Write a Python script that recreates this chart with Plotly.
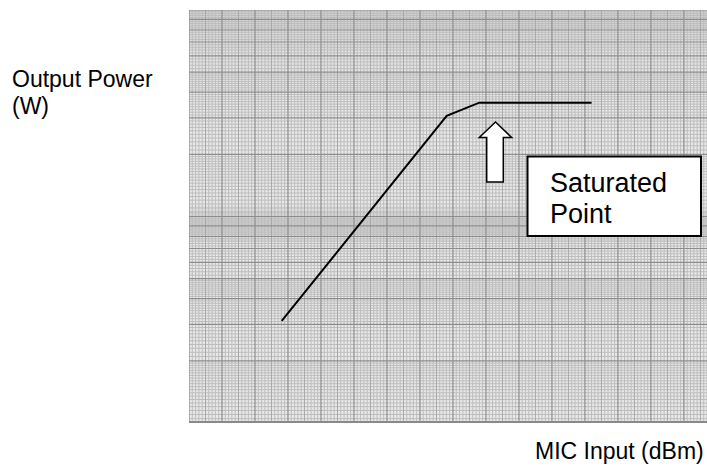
import plotly.graph_objects as go

# ---- data ----
mic_input_dbm = [2.81, 7.81, 8.80, 12.20]
output_power_w = [3.12, 30.7, 35.6, 35.6]

x_title = "MIC Input (dBm)"
y_title_lines = ["Output Power", "(W)"]
box_lines = ["Saturated", "Point"]

# ---- layout geometry (pixels) ----
W, H = 707, 466
L, T, R, B = 189, 10, 0, 466 - 423
PW, PH = W - L - R, H - T - B
XMAX = 15.7


def px(xp):
    return (xp - L) / PW


def py(yp):
    return (H - B - yp) / PH


fig = go.Figure()


def add_lines(xs=None, ys=None, color="#bbb", width=1):
    gx, gy = [], []
    if xs is not None:
        for v in xs:
            gx += [v, v, None]
            gy += [1, 100, None]
    if ys is not None:
        for v in ys:
            gx += [0, XMAX, None]
            gy += [v, v, None]
    fig.add_trace(go.Scatter(x=gx, y=gy, mode="lines", hoverinfo="skip",
                             line=dict(color=color, width=width), showlegend=False))


v_minor, v_mid, v_major = [], [], []
for i in range(0, 158):
    v = i / 10
    if i % 10 == 0:
        v_major.append(v)
    elif i % 5 == 0:
        v_mid.append(v)
    else:
        v_minor.append(v)

h_minor, h_major = [], []
for dec in (1, 10):
    vals = []
    k = 100
    while k < 200:
        vals.append(k / 100); k += 5
    k = 20
    while k < 50:
        vals.append(k / 10); k += 1
    k = 50
    while k < 100:
        vals.append(k / 10); k += 2
    for v in vals:
        val = round(v * dec, 4)
        if abs(v - round(v)) < 1e-9:
            h_major.append(val)
        else:
            h_minor.append(val)
h_major.append(100)

add_lines(xs=v_minor, color="#bdbdbd", width=1)
add_lines(ys=h_minor, color="#bdbdbd", width=1)
add_lines(xs=v_mid, color="#a8a8a8", width=1)
add_lines(xs=v_major, color="#8c8c8c", width=1.2)
add_lines(ys=h_major, color="#8c8c8c", width=1.2)
# bottom edge of the paper
fig.add_trace(go.Scatter(x=[0, XMAX], y=[1.006, 1.006], mode="lines", hoverinfo="skip",
                         line=dict(color="#8a8a8a", width=3), showlegend=False))

# data line
fig.add_trace(go.Scatter(x=mic_input_dbm, y=output_power_w, mode="lines",
                         line=dict(color="black", width=2), showlegend=False,
                         hoverinfo="skip"))

# hollow arrow (pixel coords of the reference -> paper coords)
arrow_px = [(495.5, 122), (511.7, 137.5), (503.3, 137.5), (503.3, 182),
            (486.7, 182), (486.7, 137.5), (479.3, 137.5)]
path = "M " + " L ".join(f"{px(a):.5f},{py(b):.5f}" for a, b in arrow_px) + " Z"

shapes = []
# scan shading of the paper: darker band near the decade line, darker top
for y0, y1, a in [(206, 242, 0.04), (211, 237, 0.05)]:
    shapes.append(dict(type="rect", xref="paper", yref="paper", layer="below",
                       x0=0, x1=1, y0=py(y1), y1=py(y0),
                       fillcolor=f"rgba(0,0,0,{a})", line=dict(width=0)))
for y1, a in [(30, 0.035), (50, 0.025), (75, 0.02)]:
    shapes.append(dict(type="rect", xref="paper", yref="paper", layer="below",
                       x0=0, x1=1, y0=py(y1), y1=1,
                       fillcolor=f"rgba(0,0,0,{a})", line=dict(width=0)))
shapes += [
    dict(type="path", xref="paper", yref="paper", path=path,
         fillcolor="white", line=dict(color="black", width=1.5)),
    dict(type="rect", xref="paper", yref="paper",
         x0=px(527.5), x1=px(701), y0=py(236), y1=py(156.5),
         fillcolor="white", line=dict(color="black", width=2)),
]

font = "Liberation Sans, Arial, sans-serif"
annotations = [
    dict(text=y_title_lines[0], xref="paper", yref="paper", x=px(10), y=py(79),
         xanchor="left", yanchor="middle", showarrow=False,
         font=dict(family=font, size=23, color="black")),
    dict(text=y_title_lines[1], xref="paper", yref="paper", x=px(10), y=py(106),
         xanchor="left", yanchor="middle", showarrow=False,
         font=dict(family=font, size=23, color="black")),
    dict(text=x_title, xref="paper", yref="paper", x=px(706), y=py(451),
         xanchor="right", yanchor="middle", showarrow=False,
         font=dict(family=font, size=23, color="black")),
    dict(text=box_lines[0], xref="paper", yref="paper", x=px(548), y=py(183),
         xanchor="left", yanchor="middle", showarrow=False,
         font=dict(family=font, size=27, color="black")),
    dict(text=box_lines[1], xref="paper", yref="paper", x=px(548), y=py(214),
         xanchor="left", yanchor="middle", showarrow=False,
         font=dict(family=font, size=27, color="black")),
]

fig.update_layout(
    width=W, height=H,
    margin=dict(l=L, r=R, t=T, b=B, pad=0),
    paper_bgcolor="white", plot_bgcolor="#e8e8e8",
    xaxis=dict(range=[0, XMAX], showgrid=False, zeroline=False,
               showticklabels=False, ticks="", showline=False),
    yaxis=dict(type="log", range=[0, 2], showgrid=False, zeroline=False,
               showticklabels=False, ticks="", showline=False),
    shapes=shapes, annotations=annotations,
)

fig.write_html("out.html",
               config={"displayModeBar": False, "staticPlot": True},
               post_script="document.body.style.margin='0';"
                           "document.body.style.overflow='hidden';")
